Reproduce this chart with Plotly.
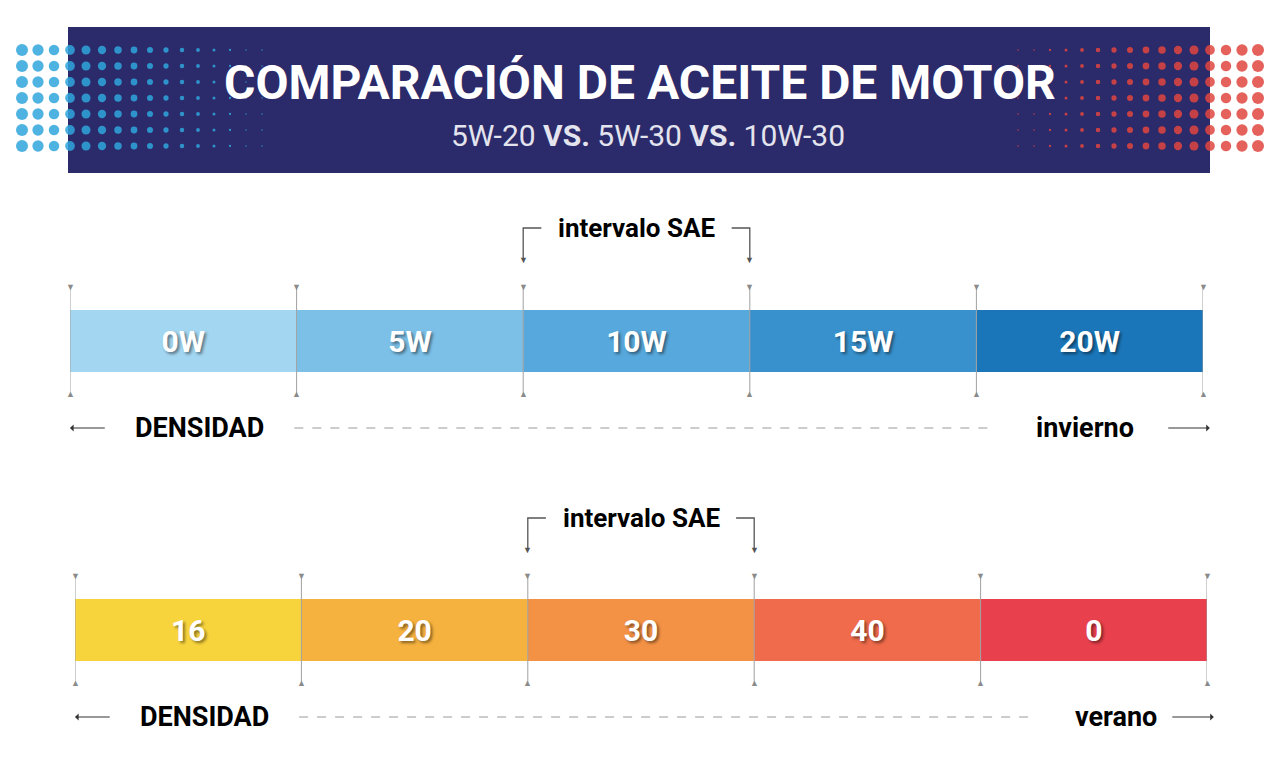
import numpy as np
import plotly.graph_objects as go

# data
invierno_labels = ["0W", "5W", "10W", "15W", "20W"]
verano_labels = ["16", "20", "30", "40", "0"]
invierno_colors = ["#a3d6f1", "#7cc0e8", "#57a8dc", "#3891cd", "#1b76b9"]
verano_colors = ["#f8d43c", "#f6b23f", "#f39245", "#ef6b4b", "#e8404c"]
sae_interval = [2, 3]  # segment boundaries of the "intervalo SAE" bracket

W, H = 1280, 773
OFF = 8  # page body margin
FONT = "Roboto, sans-serif"
n = len(invierno_labels)

fig = go.Figure()

def add_bar(labels, colors, yc, xa):
    fig.add_trace(go.Bar(
        orientation="h", x=[1] * n, base=list(range(n)), y=[yc] * n, width=62,
        marker=dict(color=colors, line=dict(width=0)),
        text=labels, textposition="inside", insidetextanchor="middle",
        textfont=dict(family=FONT, size=30, color="white",
                      weight="bold", shadow="2px 2px 3px rgba(0,0,0,0.45)"),
        xaxis=xa, hoverinfo="skip", showlegend=False,
    ))

add_bar(invierno_labels, invierno_colors, 341, "x")
add_bar(verano_labels, verano_colors, 630, "x2")

# decorative dots on the banner ends
dx, dy, dc, ds = [], [], [], []
for i in range(16):
    for j in range(7):
        s = max(1.5, 12 - i * 0.75)
        for x, c in [(22 + i * 16, "#2fa6dc"), (W - 22 - i * 16, "#e0453e")]:
            dx.append(x); dy.append(50 + j * 16); dc.append(c); ds.append(s)
fig.add_trace(go.Scatter(x=dx, y=dy, mode="markers", xaxis="x3",
                         marker=dict(color=dc, size=ds, opacity=0.85, line=dict(width=0)),
                         hoverinfo="skip", showlegend=False))

shapes = [dict(type="rect", xref="x3", yref="y", x0=68, x1=1210, y0=27, y1=173,
               fillcolor="#2b2a6a", line=dict(width=0), layer="below")]
annotations = [
    dict(x=640, y=82, xref="x3", yref="y", text="<b>COMPARACIÓN DE ACEITE DE MOTOR</b>",
         showarrow=False, font=dict(family=FONT, size=48, color="white")),
    dict(x=648, y=135, xref="x3", yref="y",
         text="5W-20 <b>VS.</b> 5W-30 <b>VS.</b> 10W-30",
         showarrow=False, font=dict(family=FONT, size=30, color="#e4e4ee")),
]

def add_scale(xa, yc, ybr, ylow, word, word_x, dash_end):
    for i in range(n + 1):
        shapes.append(dict(type="line", xref=xa, yref="y", x0=i, x1=i,
                           y0=yc - 55, y1=yc + 55, line=dict(color="#a0a0a0", width=1)))
        for yy, sym in [(yc - 55, "▼"), (yc + 52, "▲")]:
            annotations.append(dict(x=i, y=yy, xref=xa, yref="y", text=sym, showarrow=False,
                                    font=dict(size=9, color="#8a8a8a")))
    a, b = sae_interval
    shapes.append(dict(type="path", xref=xa, yref="y",
                       path=f"M {a} {ybr+30} L {a} {ybr} L {a+0.08} {ybr}",
                       line=dict(color="#555", width=1.3)))
    shapes.append(dict(type="path", xref=xa, yref="y",
                       path=f"M {b-0.08} {ybr} L {b} {ybr} L {b} {ybr+30}",
                       line=dict(color="#555", width=1.3)))
    for xx in (a, b):
        annotations.append(dict(x=xx, y=ybr + 31, xref=xa, yref="y", text="▼", showarrow=False,
                                font=dict(size=9, color="#555")))
    annotations.append(dict(x=(a + b) / 2, y=ybr, xref=xa, yref="y", text="<b>intervalo SAE</b>",
                            showarrow=False, font=dict(family=FONT, size=26, color="black")))
    for x0, x1 in [(0.16, 0.0), (n - 0.16, n + 0.03)]:
        annotations.append(dict(x=x1, y=ylow, ax=x0, ay=ylow, xref=xa, yref="y",
                                axref=xa, ayref="y", text="", showarrow=True,
                                arrowhead=1, arrowsize=1, arrowwidth=1.2, arrowcolor="#333"))
    annotations.append(dict(x=0.57, y=ylow, xref=xa, yref="y", text="<b>DENSIDAD</b>",
                            showarrow=False, font=dict(family=FONT, size=27, color="black")))
    annotations.append(dict(x=word_x, y=ylow, xref=xa, yref="y", text=f"<b>{word}</b>",
                            showarrow=False, font=dict(family=FONT, size=27, color="black")))
    shapes.append(dict(type="line", xref=xa, yref="y", x0=0.99, x1=dash_end, y0=ylow, y1=ylow,
                       line=dict(color="#999", width=1, dash="dash")))

add_scale("x", 341, 228, 428, "invierno", 4.48, 4.08)
add_scale("x2", 630, 518, 717, "verano", 4.6, 4.24)

fig.update_layout(
    width=W, height=H, margin=dict(l=0, r=0, t=0, b=0),
    paper_bgcolor="white", plot_bgcolor="rgba(0,0,0,0)", barmode="overlay",
    xaxis=dict(range=[0, n], domain=[(70 - OFF) / W, (1203 - OFF) / W], visible=False,
               fixedrange=True),
    xaxis2=dict(range=[0, n], domain=[(75 - OFF) / W, (1207 - OFF) / W], visible=False,
                anchor="y", fixedrange=True),
    xaxis3=dict(range=[OFF, W + OFF], domain=[0, 1], visible=False, anchor="y",
                fixedrange=True),
    yaxis=dict(range=[H + OFF, OFF], domain=[0, 1], visible=False, fixedrange=True),
    shapes=shapes, annotations=annotations,
)

fig.write_html("out.html")
